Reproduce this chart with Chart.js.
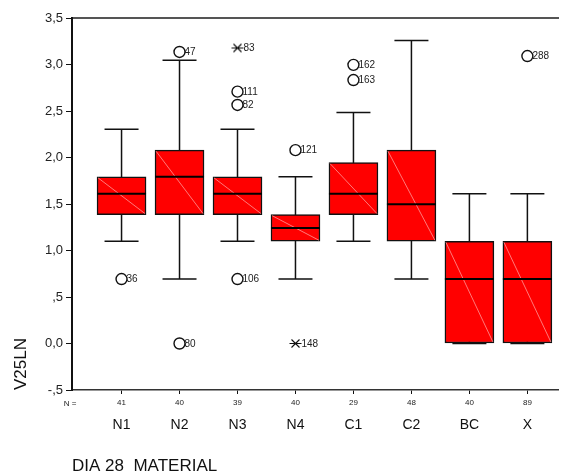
<!DOCTYPE html>
<html>
<head>
<meta charset="utf-8">
<script src="https://cdn.jsdelivr.net/npm/chart.js@4/dist/chart.umd.min.js"></script>
<style>
  body { margin: 0; background: #fff; }
  canvas { display: block; }
</style>
</head>
<body>
<canvas id="boxCanvas" width="565" height="475"></canvas>
<script>
// groups and case counts
const categories = ['N1', 'N2', 'N3', 'N4', 'C1', 'C2', 'BC', 'X'];
const nCounts = [41, 40, 39, 40, 29, 48, 40, 89];

// box statistics (V25LN)
const whiskerLow = [1.099, 0.693, 1.099, 0.693, 1.099, 0.693, 0, 0];
const q1 = [1.386, 1.386, 1.386, 1.099, 1.386, 1.099, 0, 0];
const median = [1.609, 1.792, 1.609, 1.243, 1.609, 1.498, 0.693, 0.693];
const q3 = [1.792, 2.079, 1.792, 1.386, 1.946, 2.079, 1.099, 1.099];
const whiskerHigh = [2.303, 3.045, 2.303, 1.792, 2.485, 3.258, 1.609, 1.609];

// outliers (circles) and extremes (stars), with case numbers
const outlierCat = ['N1', 'N2', 'N2', 'N3', 'N3', 'N3', 'N4', 'C1', 'C1', 'X'];
const outlierValue = [0.693, 3.135, 0, 2.708, 2.565, 0.693, 2.079, 2.996, 2.833, 3.091];
const outlierCase = ['36', '47', '80', '111', '82', '106', '121', '162', '163', '288'];
const extremeCat = ['N3', 'N4'];
const extremeValue = [3.178, 0];
const extremeCase = ['83', '148'];

const yTicks = [-0.5, 0, 0.5, 1, 1.5, 2, 2.5, 3, 3.5];

const FONT = "'Liberation Sans', Arial, sans-serif";
const NARROW = "'Liberation Sans Narrow', 'Liberation Sans', Arial, sans-serif";

// x range around the 8 groups
const X_MIN = 0.1455;
const X_MAX = 8.528;

// asterisk marker for extreme values
function makeStar() {
    const c = document.createElement('canvas');
    c.width = 13; c.height = 13;
    const g = c.getContext('2d');
    g.strokeStyle = '#111';
    g.lineWidth = 1.1;
    g.beginPath();
    g.moveTo(2.5, 2.5); g.lineTo(10.5, 10.5);
    g.moveTo(10.5, 2.5); g.lineTo(2.5, 10.5);
    g.moveTo(0.5, 6.5); g.lineTo(12.5, 6.5);
    g.stroke();
    return c;
}

function fmtTick(v) {
    if (v === 0) return '0,0';
    let s = v.toFixed(1).replace('.', ',');
    if (Math.abs(v) < 1) s = s.replace('0,', ',');
    return s;
}

// keep horizontal axes from reserving side padding for their labels
function fixHeight(h) {
    return s => { s.height = h; s.paddingLeft = 0; s.paddingRight = 0; };
}

const boxData = categories.map((c, i) => ({ x: i + 1, y: [q1[i], q3[i]] }));
const outlierData = outlierCat.map((c, i) => ({ x: categories.indexOf(c) + 1, y: outlierValue[i] }));
const extremeData = extremeCat.map((c, i) => ({ x: categories.indexOf(c) + 1, y: extremeValue[i] }));

// whiskers under the boxes, medians + case labels on top
const boxPlotPlugin = {
    id: 'boxPlot',
    beforeDatasetsDraw(chart) {
        const { ctx, scales: { x, y } } = chart;
        ctx.save();
        ctx.strokeStyle = '#111';
        ctx.lineWidth = 1.5;
        categories.forEach((c, i) => {
            const px = x.getPixelForValue(i + 1);
            const lo = y.getPixelForValue(whiskerLow[i]);
            const hi = y.getPixelForValue(whiskerHigh[i]);
            ctx.beginPath();
            ctx.moveTo(px, lo); ctx.lineTo(px, hi);
            ctx.moveTo(px - 17, lo); ctx.lineTo(px + 17, lo);
            ctx.moveTo(px - 17, hi); ctx.lineTo(px + 17, hi);
            ctx.stroke();
        });
        ctx.restore();
    },
    afterDatasetsDraw(chart) {
        const { ctx, scales: { x, y } } = chart;
        const bars = chart.getDatasetMeta(0).data;
        ctx.save();
        bars.forEach((bar, i) => {
            const left = bar.x - bar.width / 2;
            const right = bar.x + bar.width / 2;
            const top = Math.min(bar.y, bar.base);
            const bottom = Math.max(bar.y, bar.base);
            // faint diagonal highlight
            ctx.strokeStyle = 'rgba(255,190,190,0.8)';
            ctx.lineWidth = 0.8;
            ctx.beginPath();
            ctx.moveTo(left + 1, top + 1);
            ctx.lineTo(right - 1, bottom - 1);
            ctx.stroke();
            // median
            const my = y.getPixelForValue(median[i]);
            ctx.strokeStyle = '#000';
            ctx.lineWidth = 2;
            ctx.beginPath();
            ctx.moveTo(left, my); ctx.lineTo(right, my);
            ctx.stroke();
        });

        ctx.fillStyle = '#222';
        ctx.font = '10px ' + NARROW;
        ctx.textBaseline = 'middle';
        ctx.textAlign = 'left';
        chart.getDatasetMeta(1).data.forEach((pt, i) => {
            ctx.fillText(outlierCase[i], pt.x + 5, pt.y + 0.5);
        });
        chart.getDatasetMeta(2).data.forEach((pt, i) => {
            ctx.fillText(extremeCase[i], pt.x + 6, pt.y + 0.5);
        });

        // "N =" row header
        ctx.font = '8px ' + FONT;
        ctx.textAlign = 'center';
        ctx.fillText('N =', 70, 404);
        ctx.restore();
    }
};

new Chart(document.getElementById('boxCanvas').getContext('2d'), {
    type: 'bar',
    data: {
        datasets: [
            {
                data: boxData,
                backgroundColor: '#ff0000',
                borderColor: '#111',
                borderWidth: 1.5,
                borderSkipped: false,
                barThickness: 49
            },
            {
                type: 'scatter',
                data: outlierData,
                pointStyle: 'circle',
                pointRadius: 5.5,
                pointBorderColor: '#111',
                pointBorderWidth: 1.4,
                pointBackgroundColor: 'rgba(255,255,255,0)'
            },
            {
                type: 'scatter',
                data: extremeData,
                pointStyle: makeStar(),
                pointRadius: 6
            }
        ]
    },
    options: {
        responsive: false,
        animation: false,
        layout: { padding: { top: 18, right: 1, left: 0, bottom: 0 } },
        plugins: { legend: { display: false }, tooltip: { enabled: false } },
        scales: {
            x: {
                type: 'linear',
                position: 'bottom',
                offset: false,
                weight: 0,
                min: X_MIN,
                max: X_MAX,
                afterBuildTicks: s => { s.ticks = categories.map((c, i) => ({ value: i + 1 })); },
                afterFit: fixHeight(22),
                ticks: {
                    autoSkip: false,
                    maxRotation: 0,
                    padding: 4,
                    color: '#222',
                    font: { family: FONT, size: 8 },
                    callback: (v, idx) => String(nCounts[idx])
                },
                grid: { drawOnChartArea: false, drawTicks: true, tickLength: 4, color: '#111', offset: false },
                border: { display: true, color: '#333', width: 1.5 }
            },
            x2: {
                type: 'linear',
                position: 'bottom',
                offset: false,
                weight: 1,
                min: X_MIN,
                max: X_MAX,
                afterBuildTicks: s => { s.ticks = categories.map((c, i) => ({ value: i + 1 })); },
                afterFit: fixHeight(63),
                ticks: {
                    autoSkip: false,
                    maxRotation: 0,
                    padding: 5,
                    color: '#111',
                    font: { family: NARROW, size: 14 },
                    callback: (v, idx) => categories[idx]
                },
                grid: { display: false, drawTicks: false, offset: false },
                border: { display: false },
                title: {
                    display: true,
                    text: 'DIA 28  MATERIAL',
                    align: 'start',
                    color: '#111',
                    font: { family: FONT, size: 17, lineHeight: 1 },
                    padding: { top: 0, bottom: 0 }
                }
            },
            xTop: {
                type: 'linear',
                position: 'top',
                offset: false,
                min: X_MIN,
                max: X_MAX,
                afterFit: fixHeight(0),
                ticks: { display: false },
                grid: { display: false, drawTicks: false, offset: false },
                border: { display: true, color: '#555', width: 2 }
            },
            y: {
                min: -0.5,
                max: 3.5,
                afterBuildTicks: s => { s.ticks = yTicks.map(v => ({ value: v })); },
                afterFit: s => { s.width = 72; },
                ticks: {
                    padding: 3,
                    color: '#222',
                    font: { family: FONT, size: 13 },
                    callback: v => fmtTick(v)
                },
                grid: { drawOnChartArea: false, drawTicks: true, tickLength: 6, color: '#111' },
                border: { display: true, color: '#111', width: 2 },
                title: {
                    display: true,
                    text: 'V25LN',
                    align: 'start',
                    color: '#111',
                    font: { family: FONT, size: 17, lineHeight: 1.2 },
                    padding: { top: 11, bottom: 0 }
                }
            }
        }
    },
    plugins: [boxPlotPlugin]
});
</script>
</body>
</html>
